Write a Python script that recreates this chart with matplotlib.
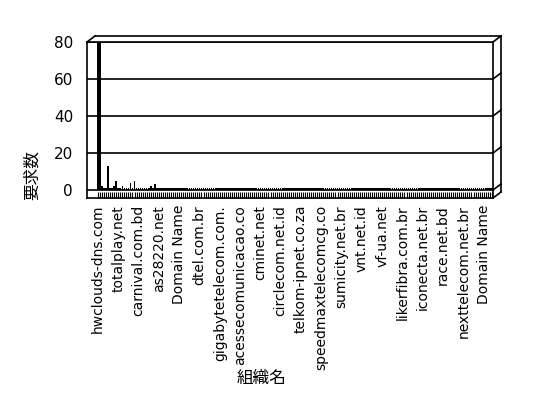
import matplotlib
matplotlib.use("Agg")
import numpy as np
from matplotlib import pyplot as plt
from matplotlib import transforms
from matplotlib.lines import Line2D

plt.rcParams['font.family'] = ['DejaVu Sans', 'Noto Sans CJK JP']

# request count per organisation (first two bars run off the top)
counts = [
    92, 88, 2, 1, 1, 13, 1, 1, 2, 5,
    1, 1, 2, 1, 1, 1, 4, 1, 5, 1,
    1, 1, 1, 1, 1, 1, 2, 1, 3, 1,
    1, 1, 1, 1, 1, 1, 1, 1, 1, 1,
    1, 1, 1, 1, 1, 1, 1, 1, 1, 1,
    1, 1, 1, 1, 1, 1, 1, 1, 1, 1,
    1, 1, 1, 1, 1, 1, 1, 1, 1, 1,
    1, 1, 1, 1, 1, 1, 1, 1, 1, 1,
    1, 1, 1, 1, 1, 1, 1, 1, 1, 1,
    1, 1, 1, 1, 1, 1, 1, 1, 1, 1,
    1, 1, 1, 1, 1, 1, 1, 1, 1, 1,
    1, 1, 1, 1, 1, 1, 1, 1, 1, 1,
    1, 1, 1, 1, 1, 1, 1, 1, 1, 1,
    1, 1, 1, 1, 1, 1, 1, 1, 1, 1,
    1, 1, 1, 1, 1, 1, 1, 1, 1, 1,
    1, 1, 1, 1, 1, 1, 1, 1, 1, 1,
    1, 1, 1, 1, 1, 1, 1, 1, 1, 1,
    1, 1, 1, 1, 1, 1, 1, 1, 1, 1,
    1, 1, 1, 1, 1, 1, 1, 1, 1, 1,
    1, 1, 1, 1, 1,
]

# only every 10th organisation name is printed on the axis
shown_labels = [
    'hwclouds-dns.com', 'totalplay.net', 'carnival.com.bd', 'as28220.net',
    'Domain Name', 'dtel.com.br', 'gigabytetelecom.com.', 'acessecomunicacao.co',
    'cminet.net', 'circlecom.net.id', 'telkom-ipnet.co.za', 'speedmaxtelecomcg.co',
    'sumicity.net.br', 'vnt.net.id', 'vf-ua.net', 'likerfibra.com.br',
    'iconecta.net.br', 'race.net.bd', 'nexttelecom.net.br', 'Domain Name',
]
label_step = 10

y_ticks = [0, 20, 40, 60, 80]

W, H = 548, 398
fig = plt.figure(figsize=(W / 100, H / 100), dpi=100)
ax = fig.add_axes([87 / W, 1 - 198 / H, (493 - 87) / W, (198 - 42) / H])

x = np.arange(len(counts))
ax.bar(x, counts, width=0.8, color='black', linewidth=0, antialiased=False, zorder=3)

ax.set_xlim(-5.4, len(counts) - 0.4)
ax.set_ylim(-4.32, 80)

ax.set_yticks(y_ticks)
ax.set_yticklabels([str(v) for v in y_ticks], fontsize=11)
ax.tick_params(axis='y', length=0, pad=10)
for v in y_ticks:
    ax.axhline(v, color='black', lw=1.2, zorder=1)

ax.set_xticks(x[::label_step])
ax.set_xticklabels(shown_labels, rotation=90, fontsize=10)
ax.set_xticks(x, minor=True)
ax.tick_params(axis='x', which='both', direction='in', length=4.5, width=0.8,
               color='black', pad=5)

for s in ax.spines.values():
    s.set_color('black')
    s.set_linewidth(1.2)

# pseudo-3d back wall and right side
off = transforms.ScaledTranslation(0.08, 0.06, fig.dpi_scale_trans)
ax_t = ax.transAxes
ax_off = ax.transAxes + off
blend = transforms.blended_transform_factory(ax.transAxes, ax.transData)
blend_off = blend + off


def seg(p0, t0, p1, t1):
    a = t0.transform(p0)
    b = t1.transform(p1)
    fig.add_artist(Line2D([a[0], b[0]], [a[1], b[1]], transform=None,
                          color='black', lw=1.2, clip_on=False))


seg((0, 1), ax_t, (0, 1), ax_off)
seg((0, 1), ax_off, (1, 1), ax_off)
seg((1, 1), ax_off, (1, 0), ax_off)
seg((1, 0), ax_t, (1, 0), ax_off)
for v in y_ticks:
    seg((1, v), blend, (1, v), blend_off)

fig.text(32 / W, 1 - 175 / H, '要求数', rotation=90, ha='center', va='center',
         fontsize=12, family=['Noto Sans CJK JP', 'DejaVu Sans'])
fig.text(262 / W, 1 - 378 / H, '組織名', ha='center', va='center',
         fontsize=12, family=['Noto Sans CJK JP', 'DejaVu Sans'])

fig.savefig('out.png', dpi=100)
